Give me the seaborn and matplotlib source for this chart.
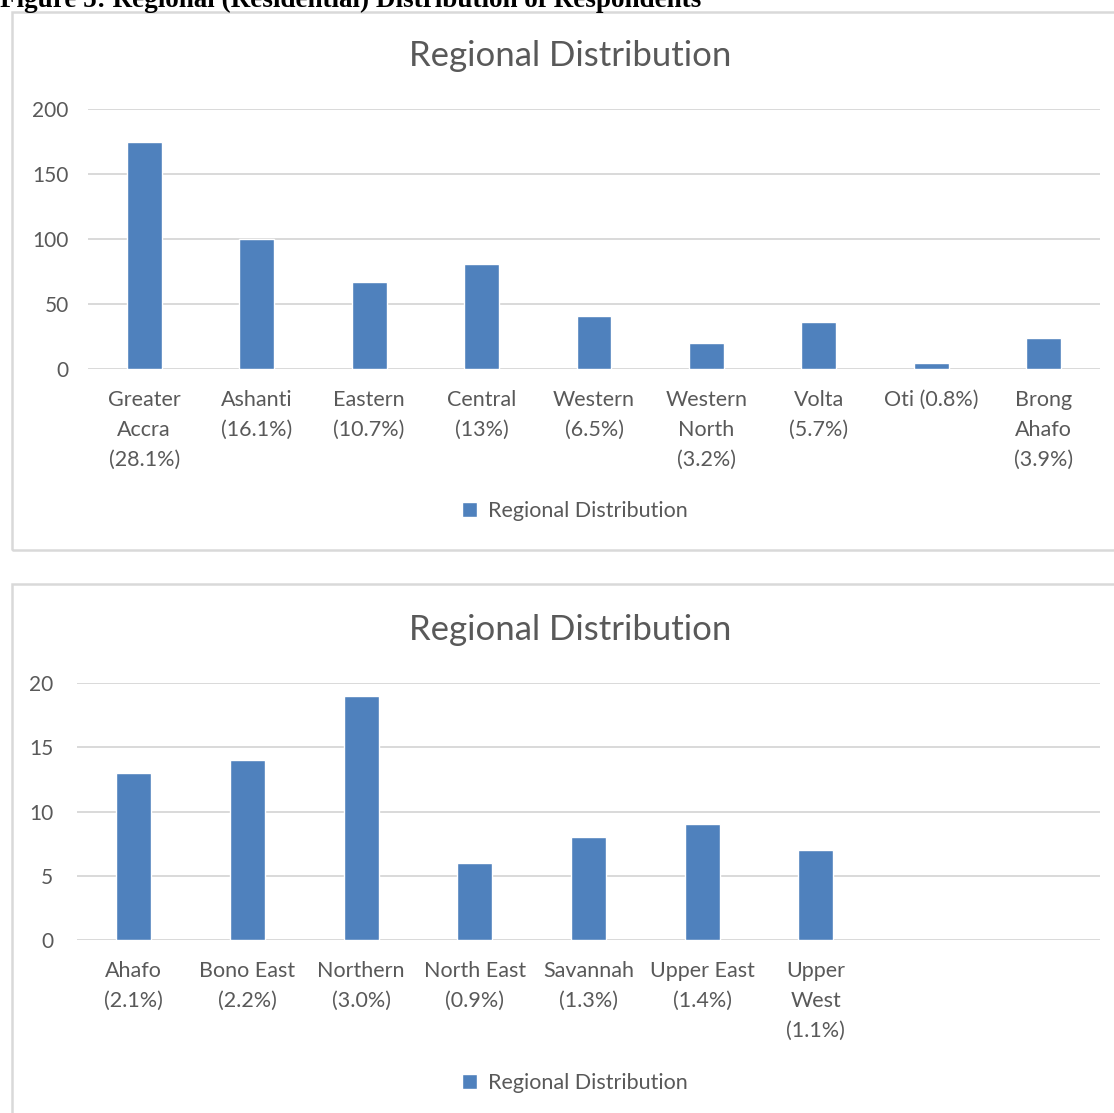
import seaborn as sns
import matplotlib.pyplot as plt
from matplotlib.patches import Rectangle

# data
regions_top = ["Greater\nAccra\n(28.1%)", "Ashanti\n(16.1%)", "Eastern\n(10.7%)", "Central\n(13%)",
               "Western\n(6.5%)", "Western\nNorth\n(3.2%)", "Volta\n(5.7%)", "Oti (0.8%)",
               "Brong\nAhafo\n(3.9%)"]
counts_top = [175, 100, 67, 81, 41, 20, 36, 5, 24]

regions_bottom = ["Ahafo\n(2.1%)", "Bono East\n(2.2%)", "Northern\n(3.0%)", "North East\n(0.9%)",
                  "Savannah\n(1.3%)", "Upper East\n(1.4%)", "Upper\nWest\n(1.1%)"]
counts_bottom = [13, 14, 19, 6, 8, 9, 7]

yticks_top = [0, 50, 100, 150, 200]
yticks_bottom = [0, 5, 10, 15, 20]

title = "Regional Distribution"
series_name = "Regional Distribution"

bar_color = "#4F81BD"
grid_color = "#D9D9D9"
text_color = "#595959"

sns.set_style("white")
plt.rcParams['font.family'] = ['Lato', 'DejaVu Sans']

W, H = 1114, 1113
fig = plt.figure(figsize=(W / 100, H / 100), dpi=100)


def px_rect(left, top, right, bottom):
    return [left / W, 1 - bottom / H, (right - left) / W, (bottom - top) / H]


# caption (cut off at the top of the page, as in the source)
fig.text(0, 1 - 7 / H, "Figure 5: Regional (Residential) Distribution of Respondents",
         family="Liberation Serif", fontweight="bold", fontsize=19.5, color="black",
         ha="left", va="baseline")

# chart boxes
for top, bottom in [(12, 550), (584, 1130)]:
    fig.patches.append(Rectangle((12 / W, 1 - bottom / H), 1.2, (bottom - top) / H,
                                 transform=fig.transFigure, fill=False,
                                 edgecolor=grid_color, linewidth=1.8))


def draw(rect, labels, values, yticks, ypad, title_y, legend_y):
    ax = fig.add_axes(rect)
    sns.barplot(x=labels, y=values, ax=ax, color=bar_color, width=0.31,
                label=series_name, saturation=1)
    ax.set_xlim(-0.5, 8.5)
    ax.set_ylim(yticks[0], yticks[-1])
    ax.set_yticks(yticks)
    ax.set_xticks(range(len(labels)), labels, linespacing=1.62, va="top")
    ax.yaxis.grid(True, color=grid_color, linewidth=1.4)
    ax.set_axisbelow(True)
    for s in ax.spines.values():
        s.set_visible(False)
    ax.tick_params(axis="x", length=0, pad=15, labelsize=15.5, labelcolor=text_color)
    ax.tick_params(axis="y", length=0, pad=ypad, labelsize=15, labelcolor=text_color)
    ax.set_xlabel("")
    ax.set_ylabel("")
    if ax.get_legend():
        ax.get_legend().remove()
    fig.text(570 / W, 1 - title_y / H, title, fontsize=25, color=text_color,
             ha="center", va="center")
    handles, lbls = ax.get_legend_handles_labels()
    fig.legend(handles[:1], lbls[:1], loc="center", bbox_to_anchor=(575 / W, 1 - legend_y / H),
               frameon=False, fontsize=15.5, labelcolor=text_color,
               handlelength=0.7, handleheight=0.7, handletextpad=0.5)
    return ax


draw(px_rect(88, 109, 1100, 369), regions_top, counts_top, yticks_top, 14, 56, 511)
draw(px_rect(77, 683, 1100, 940), regions_bottom, counts_bottom, yticks_bottom, 17, 630, 1083)

fig.savefig("out.png", dpi=100, facecolor="white")
